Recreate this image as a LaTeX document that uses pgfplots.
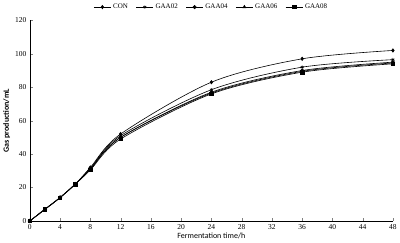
\documentclass[border=0pt]{standalone}
\usepackage{pgfplots}
\pgfplotsset{compat=1.18}
\usepackage{fontspec}
\setmainfont{Liberation Serif}
\newfontfamily\carlito{Carlito}
\begin{document}
\begin{tikzpicture}
\begin{axis}[
  scale only axis, width=362bp, height=200bp,
  xmin=0, xmax=48, ymin=0, ymax=120,
  xtick={0,4,...,48}, ytick={0,20,...,120},
  axis x line*=bottom, axis y line*=left,
  tick align=inside, major tick length=3bp,
  every axis plot/.append style={black, line width=0.6pt, mark size=1.7pt, mark options={fill=black, solid}},
  tick label style={font=\fontsize{7.5}{8}\selectfont},
  /pgf/number format/assume math mode=true,
  xlabel={\carlito\fontsize{8}{9}\selectfont Fermentation time/h},
  ylabel={\carlito\bfseries\fontsize{8}{9}\selectfont Gas production/mL},
  xlabel style={yshift=3bp},
  ylabel style={yshift=-2bp},
  legend columns=5,
  legend style={draw=none, fill=none, at={(0.5,1.03)}, anchor=south, font=\fontsize{7}{8}\selectfont, /tikz/every even column/.append style={column sep=6pt}},
]
\addplot[black, smooth, mark=diamond*] coordinates {(0,0)(2,7)(4,14)(6,22)(8,32)(12,52)(24,83)(36,97)(48,102)};
\addlegendentry{CON}
\addplot[black, smooth, mark=asterisk] coordinates {(0,0)(2,7)(4,14)(6,22)(8,31.5)(12,51)(24,78.5)(36,92)(48,96.5)};
\addlegendentry{GAA02}
\addplot[black, smooth, mark=*] coordinates {(0,0)(2,7)(4,14)(6,22)(8,31)(12,50)(24,77)(36,90)(48,95)};
\addlegendentry{GAA04}
\addplot[black, smooth, mark=triangle*] coordinates {(0,0)(2,7)(4,14)(6,22)(8,31)(12,50)(24,76.5)(36,89.5)(48,94.5)};
\addlegendentry{GAA06}
\addplot[black, smooth, mark=square*] coordinates {(0,0)(2,7)(4,14)(6,22)(8,30.5)(12,49)(24,76)(36,89)(48,94)};
\addlegendentry{GAA08}
\end{axis}
\end{tikzpicture}
\end{document}
